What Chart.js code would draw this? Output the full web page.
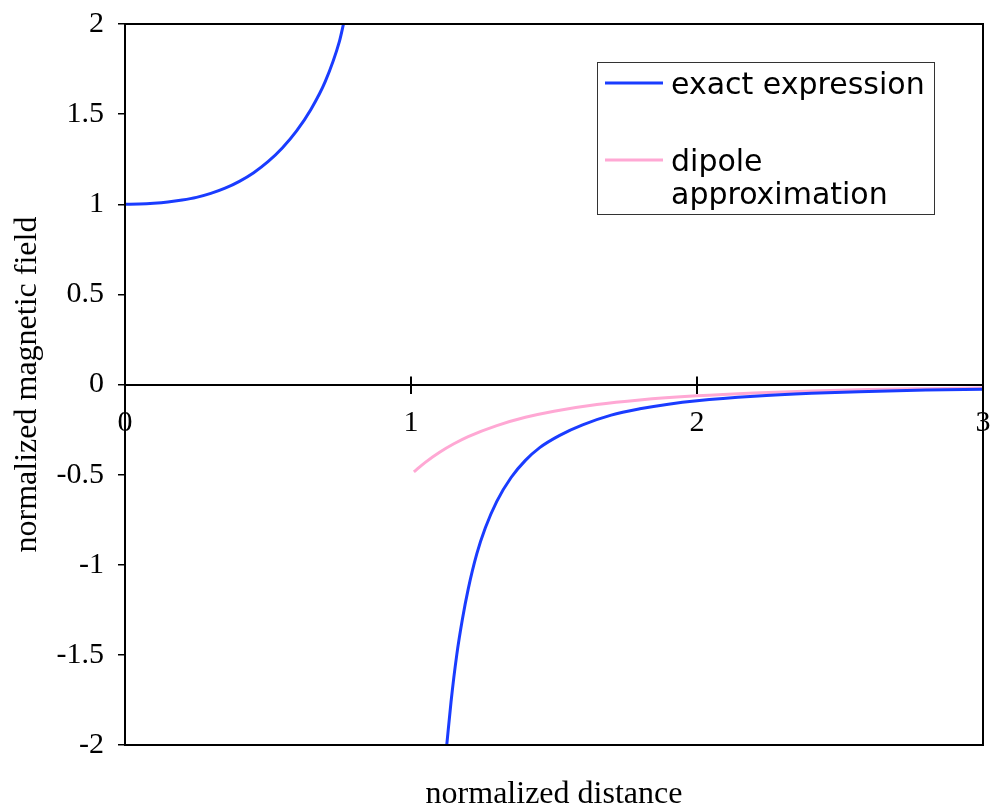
<!DOCTYPE html>
<html>
<head>
<meta charset="utf-8">
<script src="https://cdn.jsdelivr.net/npm/chart.js@4.4.1/dist/chart.umd.min.js"></script>
<style>
  html, body { margin: 0; padding: 0; background: #ffffff; }
  #wrap { width: 992px; height: 812px; position: relative; }
</style>
</head>
<body>
<div id="wrap"><canvas id="c" width="992" height="812"></canvas></div>
<script>
// ---- data ----
const exactUpperX = [0.00, 0.05, 0.10, 0.15, 0.20, 0.25, 0.30, 0.35, 0.40, 0.45, 0.50, 0.55, 0.60, 0.65, 0.70, 0.75, 0.764];
const exactUpperY = [1.000, 1.001, 1.005, 1.012, 1.023, 1.038, 1.060, 1.089, 1.127, 1.175, 1.236, 1.312, 1.407, 1.526, 1.680, 1.905, 2.000];
const exactLowerX = [1.125, 1.14, 1.16, 1.18, 1.20, 1.23, 1.26, 1.30, 1.35, 1.40, 1.45, 1.52, 1.60, 1.70, 1.80, 1.90, 2.00, 2.20, 2.40, 2.60, 2.80, 3.00];
const exactLowerY = [-2.00, -1.76, -1.50, -1.30, -1.135, -0.94, -0.795, -0.648, -0.516, -0.421, -0.350, -0.282, -0.224, -0.170, -0.135, -0.109, -0.090, -0.065, -0.049, -0.039, -0.031, -0.026];
const dipoleX = [1.01, 1.05, 1.10, 1.15, 1.20, 1.30, 1.40, 1.50, 1.65, 1.80, 2.00, 2.20, 2.40, 2.60, 2.80, 3.00];
const dipoleY = [-0.485, -0.432, -0.376, -0.329, -0.289, -0.228, -0.182, -0.148, -0.111, -0.086, -0.063, -0.047, -0.036, -0.028, -0.023, -0.019];
const xTickValues = [0, 1, 2, 3];
const xTickLabels = ['0', '1', '2', '3'];
const yTickValues = [-2, -1.5, -1, -0.5, 0, 0.5, 1, 1.5, 2];
const yTickLabels = ['-2', '-1.5', '-1', '-0.5', '0', '0.5', '1', '1.5', '2'];
const seriesNames = ['exact expression', ['dipole', 'approximation']];
const xTitle = 'normalized distance';
const yTitle = 'normalized magnetic field';

const serif = '"Liberation Serif", "Times New Roman", serif';
const sans = '"DejaVu Sans", Verdana, sans-serif';

const exactData = exactUpperX.map((x, i) => ({x: x, y: exactUpperY[i]}))
  .concat([{x: 0.95, y: null}])
  .concat(exactLowerX.map((x, i) => ({x: x, y: exactLowerY[i]})));
const dipoleData = dipoleX.map((x, i) => ({x: x, y: dipoleY[i]}));

const frameAndLegend = {
  id: 'frameAndLegend',
  afterDraw(chart) {
    const ctx = chart.ctx;
    const a = chart.chartArea;
    const xs = chart.scales.x, ys = chart.scales.y;
    ctx.save();
    // plot frame
    ctx.strokeStyle = '#000';
    ctx.lineWidth = 2;
    ctx.strokeRect(a.left, a.top, a.right - a.left, a.bottom - a.top);
    // upper halves of the crossing x ticks
    const y0 = ys.getPixelForValue(0);
    ctx.beginPath();
    xTickValues.forEach(v => {
      const px = xs.getPixelForValue(v);
      ctx.moveTo(px, y0 - 8);
      ctx.lineTo(px, y0);
    });
    ctx.stroke();
    // legend
    const bx = a.left + 472, by = a.top + 38, bw = 337, bh = 152;
    ctx.lineWidth = 1;
    ctx.strokeStyle = '#333';
    ctx.strokeRect(bx + 0.5, by + 0.5, bw, bh);
    ctx.font = '30px ' + sans;
    ctx.fillStyle = '#000';
    ctx.textBaseline = 'alphabetic';
    ctx.textAlign = 'left';
    const rows = [{y: by + 21, lineY: by + 21}, {y: by + 98, lineY: by + 98}];
    chart.data.datasets.forEach((ds, i) => {
      const r = rows[i];
      ctx.strokeStyle = ds.borderColor;
      ctx.lineWidth = ds.borderWidth;
      ctx.beginPath();
      ctx.moveTo(bx + 8, r.lineY);
      ctx.lineTo(bx + 66, r.lineY);
      ctx.stroke();
      const lines = Array.isArray(ds.label) ? ds.label : [ds.label];
      lines.forEach((t, k) => {
        ctx.fillText(t, bx + 74, r.y + 11 + k * 33);
      });
    });
    ctx.restore();
  }
};

new Chart(document.getElementById('c'), {
  type: 'line',
  data: {
    datasets: [
      {
        label: seriesNames[0],
        data: exactData,
        borderColor: '#1a3cff',
        borderWidth: 3,
        pointRadius: 0,
        fill: false,
        spanGaps: false,
        cubicInterpolationMode: 'monotone'
      },
      {
        label: seriesNames[1],
        data: dipoleData,
        borderColor: '#ffa8d4',
        borderWidth: 3,
        pointRadius: 0,
        fill: false,
        cubicInterpolationMode: 'monotone'
      }
    ]
  },
  options: {
    responsive: false,
    animation: false,
    events: [],
    layout: { padding: { left: 0, right: 9, top: 24, bottom: 0 } },
    plugins: {
      legend: { display: false },
      tooltip: { enabled: false },
      title: {
        display: true,
        position: 'bottom',
        fullSize: false,
        text: xTitle,
        color: '#000',
        font: { family: serif, size: 32, weight: 'normal', lineHeight: 1 },
        padding: { top: 34, bottom: 1 }
      }
    },
    scales: {
      x: {
        type: 'linear',
        min: 0,
        max: 3,
        position: { y: 0 },
        afterBuildTicks: (s) => { s.ticks = xTickValues.map(v => ({value: v})); },
        afterFit: (s) => { s.paddingLeft = 0; s.paddingRight = 0; s.paddingTop = 0; s.paddingBottom = 0; },
        ticks: {
          callback: (v) => xTickLabels[xTickValues.indexOf(v)],
          color: '#000',
          font: { family: serif, size: 30 },
          padding: 13,
          maxRotation: 0,
          autoSkip: false
        },
        grid: { drawOnChartArea: false, drawTicks: true, tickLength: 8, color: '#000', lineWidth: 2 },
        border: { display: true, color: '#000', width: 2 }
      },
      y: {
        type: 'linear',
        min: -2,
        max: 2,
        position: 'left',
        afterBuildTicks: (s) => { s.ticks = yTickValues.map(v => ({value: v})); },
        afterFit: (s) => { s.width = 125; s.paddingTop = 0; s.paddingBottom = 0; s.paddingLeft = 0; s.paddingRight = 0; },
        ticks: {
          callback: (v) => yTickLabels[yTickValues.indexOf(v)],
          color: '#000',
          font: { family: serif, size: 30 },
          padding: 14,
          autoSkip: false
        },
        grid: { drawOnChartArea: false, drawTicks: true, tickLength: 7, color: '#000', lineWidth: 1.5 },
        border: { display: true, color: '#000', width: 2 },
        title: {
          display: true,
          text: yTitle,
          color: '#000',
          font: { family: serif, size: 32, weight: 'normal', lineHeight: 1 },
          padding: { top: 12, bottom: 0 }
        }
      }
    }
  },
  plugins: [frameAndLegend]
});
</script>
</body>
</html>
